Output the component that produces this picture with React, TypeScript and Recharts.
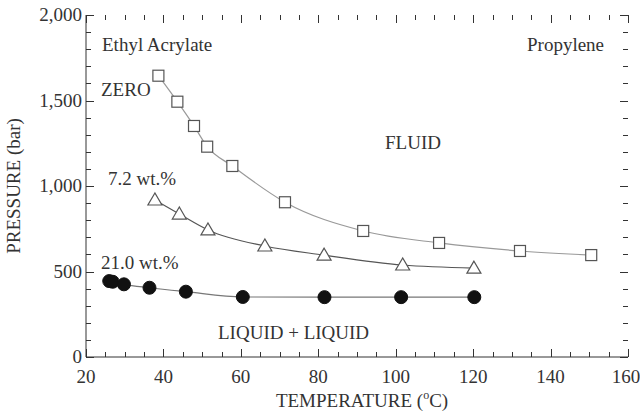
import { LineChart, Line, XAxis, YAxis } from "recharts";

// temperature (°C) / pressure (bar)
const zeroTemp = [38.7, 43.6, 47.9, 51.3, 57.8, 71.4, 91.6, 111.2, 132.1, 150.5];
const zeroPres = [1645, 1493, 1351, 1230, 1117, 905, 737, 667, 620, 596];
const sevenTemp = [37.8, 44.1, 51.5, 66.2, 81.5, 101.8, 120.2];
const sevenPres = [918, 836, 743, 649, 596, 538, 520];
const twentyOneTemp = [26.0, 26.9, 29.8, 36.4, 45.8, 60.5, 81.6, 101.4, 120.3];
const twentyOnePres = [444, 440, 425, 405, 382, 351, 350, 350, 350];

const xMajor = [20, 40, 60, 80, 100, 120, 140, 160];
const yMajor = [0, 500, 1000, 1500, 2000];

const xTicks: number[] = [];
for (let t = 20; t <= 160; t += 5) xTicks.push(t);
const yTicks: number[] = [];
for (let p = 0; p <= 2000; p += 100) yTicks.push(p);

const zip = (ts: number[], ps: number[]) => ts.map((t, i) => ({ t, p: ps[i] }));
const zeroData = zip(zeroTemp, zeroPres);
const sevenData = zip(sevenTemp, sevenPres);
const twentyOneData = zip(twentyOneTemp, twentyOnePres);

const FONT = "'Liberation Serif', 'Times New Roman', serif";
const INK = "#333";

const W = 640;
const H = 414;
const MARGIN = { top: 15, right: 12, bottom: 27, left: 26 };
const Y_AXIS_W = 60;
const X_AXIS_H = 30;
// plot box, same numbers Recharts uses for its offset
const PL = MARGIN.left + Y_AXIS_W;
const PR = W - MARGIN.right;
const PT = MARGIN.top;
const PB = H - MARGIN.bottom - X_AXIS_H;
const sx = (t: number) => PL + ((t - 20) / 140) * (PR - PL);
const sy = (p: number) => PB - (p / 2000) * (PB - PT);

const BottomLabel = (props: any) => {
  const { x, y, payload } = props;
  const tx = Math.min(x, 626);
  return (
    <text x={tx} y={y + 26} textAnchor="middle" fontFamily={FONT} fontSize={19} fill={INK}>
      {payload.value}
    </text>
  );
};

const LeftLabel = (props: any) => {
  const { x, y, payload } = props;
  return (
    <text x={x - 4} y={y + 6} textAnchor="end" fontFamily={FONT} fontSize={19} fill={INK}>
      {payload.value.toLocaleString("en-US")}
    </text>
  );
};

const squareDot = (props: any) => {
  const { cx, cy, index } = props;
  return (
    <rect key={`sq-${index}`} x={cx - 5.5} y={cy - 5.5} width={11} height={11}
      fill="#fff" stroke="#555" strokeWidth={1.2} />
  );
};

const triangleDot = (props: any) => {
  const { cx, cy, index } = props;
  const pts = `${cx},${cy - 7} ${cx - 7},${cy + 5} ${cx + 7},${cy + 5}`;
  return <polygon key={`tr-${index}`} points={pts} fill="#fff" stroke="#555" strokeWidth={1.2} />;
};

const circleDot = (props: any) => {
  const { cx, cy, index } = props;
  return <circle key={`ci-${index}`} cx={cx} cy={cy} r={6.5} fill="#111" stroke="#111" />;
};

const txt = { fontFamily: FONT, fontSize: 19, fill: INK } as const;

export default function App() {
  // inward tick marks on all four sides
  const ticks: any[] = [];
  xTicks.forEach((t) => {
    const len = xMajor.includes(t) ? 8 : 5;
    const x = Math.round(sx(t)) + 0.5;
    ticks.push(
      <line key={`xb-${t}`} x1={x} x2={x} y1={PB} y2={PB - len} stroke={INK} strokeWidth={1} />,
      <line key={`xt-${t}`} x1={x} x2={x} y1={PT} y2={PT + len} stroke={INK} strokeWidth={1} />
    );
  });
  yTicks.forEach((p) => {
    const len = yMajor.includes(p) ? 8 : 5;
    const y = Math.round(sy(p)) + 0.5;
    ticks.push(
      <line key={`yl-${p}`} x1={PL} x2={PL + len} y1={y} y2={y} stroke={INK} strokeWidth={1} />,
      <line key={`yr-${p}`} x1={PR} x2={PR - len} y1={y} y2={y} stroke={INK} strokeWidth={1} />
    );
  });

  return (
    <div style={{ position: "fixed", left: 0, top: 0, width: W, height: H, background: "#fff" }}>
      <LineChart width={W} height={H} margin={MARGIN}>
        <XAxis
          dataKey="t"
          type="number"
          domain={[20, 160]}
          ticks={xMajor}
          interval={0}
          height={X_AXIS_H}
          tickSize={0}
          tickMargin={0}
          tickLine={false}
          axisLine={{ stroke: INK }}
          tick={<BottomLabel />}
        />
        <XAxis
          xAxisId="top"
          orientation="top"
          dataKey="t"
          type="number"
          domain={[20, 160]}
          height={0}
          tickLine={false}
          tick={false}
          axisLine={{ stroke: INK }}
        />
        <YAxis
          type="number"
          domain={[0, 2000]}
          ticks={yMajor}
          interval={0}
          width={Y_AXIS_W}
          tickSize={0}
          tickMargin={0}
          tickLine={false}
          axisLine={{ stroke: INK }}
          tick={<LeftLabel />}
        />
        <YAxis
          yAxisId="right"
          orientation="right"
          type="number"
          domain={[0, 2000]}
          width={0}
          tickLine={false}
          tick={false}
          axisLine={{ stroke: INK }}
        />
        <Line data={zeroData} dataKey="p" type="monotone" stroke="#999" strokeWidth={1.2}
          dot={squareDot} activeDot={false} isAnimationActive={false} />
        <Line data={sevenData} dataKey="p" type="monotone" stroke="#555" strokeWidth={1.2}
          dot={triangleDot} activeDot={false} isAnimationActive={false} />
        <Line data={twentyOneData} dataKey="p" type="monotone" stroke="#777" strokeWidth={1.2}
          dot={circleDot} activeDot={false} isAnimationActive={false} />
      </LineChart>
      <svg width={W} height={H} style={{ position: "absolute", left: 0, top: 0, pointerEvents: "none" }}>
        {ticks}
        <text x={102} y={51} {...txt}>Ethyl Acrylate</text>
        <text x={527} y={51} {...txt}>Propylene</text>
        <text x={101} y={96} {...txt}>ZERO</text>
        <text x={385} y={149} {...txt}>FLUID</text>
        <text x={108} y={185} {...txt}>7.2 wt.%</text>
        <text x={101} y={269} {...txt}>21.0 wt.%</text>
        <text x={218} y={339} {...txt}>LIQUID + LIQUID</text>
        <text x={20} y={186} textAnchor="middle" transform="rotate(-90 20 186)" {...txt}>PRESSURE (bar)</text>
        <text x={362} y={407} textAnchor="middle" {...txt}>
          TEMPERATURE (<tspan fontSize={12} dy={-8}>o</tspan><tspan dy={8}>C)</tspan>
        </text>
      </svg>
    </div>
  );
}
